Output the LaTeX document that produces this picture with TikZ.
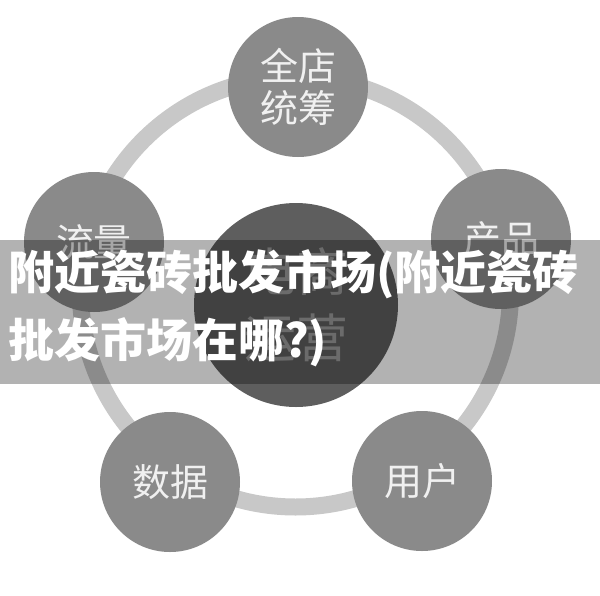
\documentclass[tikz,border=0pt]{standalone}
\usepackage{fontspec}
\newfontfamily\cjk{Noto Sans CJK SC}
\definecolor{ringgray}{HTML}{C8C8C8}
\definecolor{satgray}{HTML}{8A8A8A}
\definecolor{centergray}{HTML}{5E5E5E}
\definecolor{sattext}{HTML}{F0F0F0}
\definecolor{centertext}{HTML}{9A9A9A}
\begin{document}
\begin{tikzpicture}[x=1pt,y=-1pt,
  sat/.style={circle,fill=satgray,minimum size=140pt,inner sep=0pt,
    text=sattext,align=center,font=\cjk\fontsize{38}{42}\selectfont},
  hub/.style={circle,fill=centergray,minimum size=204pt,inner sep=0pt,
    text=centertext,align=center,font=\cjk\fontsize{52}{66}\selectfont},
  bannertext/.style={anchor=base west,inner sep=0pt,text=white,
    font=\cjk\bfseries\fontsize{46}{46}\selectfont}]
\useasboundingbox (0,0) rectangle (600,595);
\fill[white] (0,0) rectangle (600,595);
% ring
\coordinate (ringc) at (295.5,292);
\draw[ringgray,line width=17pt] (ringc) circle[radius=215pt];
% satellites
\node[sat] (top) at (298,87) {全店\\统筹};
\node[sat] (right) at (501,239) {产品};
\node[sat] (bright) at (422,481) {用户};
\node[sat] (bleft) at (170,482) {数据};
\node[sat] (left) at (94,242) {流量};
% hub
\node[hub] (hub) at (296,305) {电商\\运营};
% banner
\fill[black,opacity=0.3] (0,240) rectangle (600,384);
\node[bannertext] (banner1) at (8,289) {附近瓷砖批发市场(附近瓷砖};
\node[bannertext] (banner2) at (8,357) {批发市场在哪?)};
\end{tikzpicture}
\end{document}
